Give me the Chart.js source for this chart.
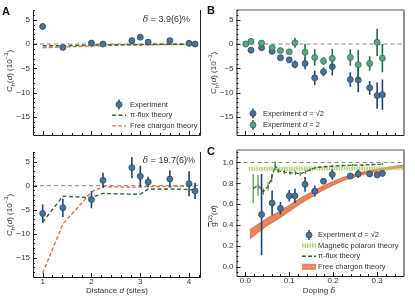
<!DOCTYPE html>
<html>
<head>
<meta charset="utf-8">
<script src="https://cdn.jsdelivr.net/npm/chart.js@4.4.1/dist/chart.umd.min.js"></script>
<style>
  body { margin: 0; width: 415px; height: 300px; position: relative; overflow: hidden; background: #fff;
         font-family: "Liberation Sans", Arial, sans-serif; color: #333; }
  canvas { position: absolute; left: 0; top: 0; }
  .lbl { position: absolute; font-size: 8px; white-space: nowrap; line-height: 1; }
  .rot { transform: translate(-50%, -50%) rotate(-90deg); }
  .ctr { transform: translate(-50%, -50%); }
  .letter { position: absolute; font-weight: bold; font-size: 11px; line-height: 1; color: #111; }
  sub, sup { font-size: 6px; line-height: 0; }
  .delta { position: absolute; font-size: 9px; line-height: 1; white-space: nowrap; transform: translate(-100%, -50%); }
</style>
</head>
<body>
<canvas id="a1" width="415" height="300"></canvas>
<canvas id="a2" width="415" height="300"></canvas>
<canvas id="b" width="415" height="300"></canvas>
<canvas id="c" width="415" height="300"></canvas>

<div class="letter" style="left:2px;top:6px">A</div>
<div class="letter" style="left:207px;top:5px">B</div>
<div class="letter" style="left:207px;top:146px">C</div>

<div class="delta" style="left:190px;top:19px"><i style="font-family:'DejaVu Serif',serif">δ</i> = 3.9(6)%</div>
<div class="delta" style="left:195px;top:160px"><i style="font-family:'DejaVu Serif',serif">δ</i> = 19.7(6)%</div>

<div class="lbl rot" style="left:10px;top:71px"><i>C</i><sub>h</sub>(<i>d</i>) (10<sup>−3</sup>)</div>
<div class="lbl rot" style="left:10px;top:215px"><i>C</i><sub>h</sub>(<i>d</i>) (10<sup>−3</sup>)</div>
<div class="lbl rot" style="left:214px;top:73px"><i>C</i><sub>h</sub>(<i>d</i>) (10<sup>−3</sup>)</div>
<div class="lbl rot" style="left:214px;top:216px"><span style="text-decoration:overline">g</span><sup>(2)</sup>(<i>d</i>)</div>
<div class="lbl ctr" style="left:117px;top:291px">Distance <i>d</i> (sites)</div>
<div class="lbl ctr" style="left:319px;top:291px">Doping <i style="font-family:'DejaVu Serif',serif">δ</i></div>

<script>
"use strict";

// ---- panel A: hole correlations vs distance ----
const DIST = [1, 1.414, 2, 2.236, 2.828, 3, 3.162, 3.606, 4, 4.123];
const CH_LOW = [3.6, -0.7, 0.2, 0.0, 0.7, 1.4, 0.4, 0.7, 0.15, 0.0];
const CH_LOW_ERR = [0.6, 0.5, 0.5, 0.5, 0.6, 0.6, 0.5, 0.5, 0.6, 0.6];
const PIFLUX_LOW = [-0.35, -0.35, -0.2, -0.15, -0.1, -0.1, -0.05, -0.05, -0.05, -0.05];
const CHARGON_LOW = [-0.75, -0.6, -0.4, -0.3, -0.2, -0.2, -0.15, -0.1, -0.1, -0.1];

const CH_HIGH = [-5.8, -4.6, -2.9, 1.1, 3.75, 1.95, 0.75, 1.4, 0.4, -1.1];
const CH_HIGH_ERR = [1.9, 1.9, 1.8, 1.6, 2.2, 2.2, 1.1, 1.8, 2.6, 1.7];
const PIFLUX_HIGH = [-7.6, -2.2, -2.5, -1.6, -1.8, -1.8, -0.7, -0.7, -0.8, -0.9];
const CHARGON_HIGH = [-18.2, -8.0, -1.3, -0.2, -0.3, -0.3, -0.2, -0.15, -0.1, -0.1];

// ---- panel B: correlations vs doping ----
const DOP_D2 = [0.001, 0.013, 0.037, 0.061, 0.080, 0.100, 0.113, 0.136, 0.158, 0.178, 0.198, 0.239, 0.257, 0.283, 0.300, 0.312];
const CH_D2 = [0.0, 0.55, 0.2, -0.75, -1.35, -1.6, 0.25, -1.7, -2.75, -3.5, -2.95, -2.75, -4.25, -4.0, 0.35, -2.9];
const CH_D2_ERR = [0.3, 0.3, 0.3, 0.4, 0.4, 0.4, 1.0, 1.7, 1.7, 0.8, 2.0, 1.7, 3.1, 1.5, 2.8, 2.9];
const DOP_SQ2 = [0.013, 0.037, 0.061, 0.080, 0.100, 0.113, 0.136, 0.158, 0.178, 0.198, 0.239, 0.257, 0.283, 0.300, 0.312];
const CH_SQ2 = [-1.25, -0.75, -1.5, -2.8, -3.25, -4.2, -4.0, -6.95, -5.7, -4.65, -7.3, -7.4, -9.0, -10.6, -10.4];
const CH_SQ2_ERR = [0.3, 0.3, 0.4, 0.4, 0.5, 0.8, 1.2, 1.5, 0.9, 1.8, 1.5, 2.5, 1.4, 2.7, 3.1];

// ---- panel C: g2 vs doping ----
const DOP_C = [0.037, 0.061, 0.080, 0.100, 0.113, 0.136, 0.158, 0.178, 0.198, 0.239, 0.257, 0.283, 0.300, 0.312];
const G2 = [0.50, 0.61, 0.56, 0.68, 0.68, 0.79, 0.725, 0.82, 0.885, 0.87, 0.89, 0.89, 0.88, 0.895];
const G2_ERR = [0.39, 0.12, 0.06, 0.055, 0.07, 0.07, 0.055, 0.02, 0.05, 0.02, 0.04, 0.02, 0.02, 0.02];
const DOP_PIFLUX = [0.018, 0.029, 0.041, 0.052, 0.060, 0.068, 0.075, 0.089, 0.102, 0.114, 0.125, 0.137, 0.148, 0.159, 0.170, 0.182, 0.198, 0.221, 0.244, 0.266, 0.289, 0.312];
const G2_PIFLUX = [0.75, 0.78, 0.72, 0.77, 0.85, 0.97, 0.92, 0.91, 0.90, 0.90, 0.89, 0.91, 0.93, 0.95, 0.955, 0.96, 0.965, 0.97, 0.975, 0.975, 0.98, 0.985];
const G2_PIFLUX_ERR = [0.14, 0.10, 0.03, 0.04, 0.04, 0.04, 0.02, 0.02, 0.02, 0.02, 0.02, 0.02, 0.015, 0.01, 0.01, 0.01, 0.01, 0.01, 0.01, 0.01, 0.01, 0.01];
const DOP_POLARON = [0.008, 0.1, 0.2, 0.3, 0.36];
const G2_POLARON = [0.94, 0.941, 0.942, 0.943, 0.944];
const DOP_CHARGON = [0.01, 0.03, 0.05, 0.075, 0.1, 0.125, 0.15, 0.175, 0.2, 0.225, 0.25, 0.275, 0.3, 0.325, 0.36];
const G2_CHARGON = [0.31, 0.37, 0.43, 0.49, 0.56, 0.63, 0.69, 0.75, 0.80, 0.845, 0.875, 0.905, 0.925, 0.945, 0.965];
const G2_CHARGON_HW = [0.045, 0.04, 0.036, 0.033, 0.03, 0.027, 0.024, 0.021, 0.018, 0.016, 0.014, 0.012, 0.011, 0.01, 0.01];

// ---- ticks ----
const A_X_TICKS = [1, 2, 3, 4];
const A_Y_TICKS = [-15, -10, -5, 0, 5];
const C_X_TICKS = [0, 0.1, 0.2, 0.3];
const C_Y_TICKS = [0, 0.2, 0.4, 0.6, 0.8, 1.0];

const BLUE = "#4d7192", BLUE_EDGE = "#2c4a66", BLUE_BAR = "#1d4677";
const GREEN = "#5ea386", GREEN_EDGE = "#2f6e55", GREEN_BAR = "#1f6b4a";
const PIGREEN = "#2f6b2f", ORANGE = "#dd7348", BAND = "#e9835b", POLARON = "#b2cd6c";
const FONT = '"Liberation Sans", Arial, sans-serif';
const YAXIS_W = 28, XAXIS_H = 12;

Chart.defaults.font.family = FONT;
Chart.defaults.font.size = 8;
Chart.defaults.color = "#333";

const pts = (xs, ys) => xs.map((x, i) => ({ x, y: ys[i] }));
const minus = (v) => (v < 0 ? "\u2212" + Math.abs(v) : String(v));
const fixed1 = (v) => v.toFixed(1);

function range(a, b, step) {
  const out = [];
  for (let v = a; v <= b + 1e-9; v += step) out.push(+v.toFixed(4));
  return out;
}

function drawText(ctx, segs, x, y) {
  segs.forEach((s) => {
    ctx.font = (s.i ? "italic " : "") + "7.5px " + FONT;
    ctx.fillText(s.t, x, y);
    x += ctx.measureText(s.t).width;
  });
}

function drawLegend(ctx, L) {
  ctx.save();
  ctx.textBaseline = "middle";
  L.items.forEach((it, k) => {
    const y = L.y + k * L.dy, x = L.x;
    ctx.setLineDash([]);
    if (it.kind === "marker") {
      ctx.strokeStyle = it.bar; ctx.lineWidth = 1.5;
      ctx.beginPath(); ctx.moveTo(x, y - 5); ctx.lineTo(x, y + 5); ctx.stroke();
      ctx.beginPath(); ctx.arc(x, y, 3, 0, Math.PI * 2);
      ctx.fillStyle = it.color; ctx.fill();
      ctx.strokeStyle = it.edge; ctx.lineWidth = 0.8; ctx.stroke();
    } else if (it.kind === "dash") {
      ctx.strokeStyle = it.color; ctx.lineWidth = it.width || 1.4; ctx.setLineDash(it.dash);
      ctx.beginPath(); ctx.moveTo(x - 7, y); ctx.lineTo(x + 7, y); ctx.stroke();
    } else if (it.kind === "band") {
      ctx.fillStyle = it.color; ctx.fillRect(x - 7, y - 3, 14, 6);
      ctx.strokeStyle = it.light; ctx.lineWidth = 1; ctx.setLineDash([3, 2]);
      ctx.beginPath(); ctx.moveTo(x - 7, y); ctx.lineTo(x + 7, y); ctx.stroke();
    }
    ctx.setLineDash([]);
    ctx.fillStyle = "#333";
    drawText(ctx, it.text, L.tx, y);
  });
  ctx.restore();
}

const decor = {
  id: "decor",
  beforeDatasetsDraw(chart, args, o) {
    if (o.ref == null) return;
    const { ctx, chartArea: a, scales } = chart;
    const py = scales.y.getPixelForValue(o.ref);
    ctx.save();
    ctx.strokeStyle = "#888"; ctx.lineWidth = 1; ctx.setLineDash([4, 3]);
    ctx.beginPath(); ctx.moveTo(a.left, py); ctx.lineTo(a.right, py); ctx.stroke();
    ctx.restore();
  },
  beforeDatasetDraw(chart, args) {
    const ds = chart.data.datasets[args.index];
    if (!ds.errors) return;
    const { ctx, chartArea: a, scales: { x, y } } = chart;
    ctx.save();
    ctx.beginPath(); ctx.rect(a.left, a.top, a.right - a.left, a.bottom - a.top); ctx.clip();
    ctx.strokeStyle = ds.errorColor; ctx.lineWidth = ds.errorWidth || 1.6;
    ds.data.forEach((p, i) => {
      const px = x.getPixelForValue(p.x), e = ds.errors[i];
      ctx.beginPath();
      ctx.moveTo(px, y.getPixelForValue(p.y - e));
      ctx.lineTo(px, y.getPixelForValue(p.y + e));
      ctx.stroke();
    });
    ctx.restore();
  },
  afterDraw(chart, args, o) {
    const { ctx, chartArea: a, scales: { x, y } } = chart;
    ctx.save();
    ctx.strokeStyle = "#222"; ctx.lineWidth = 1;
    ctx.beginPath();
    ctx.moveTo(a.left + 0.5, a.top); ctx.lineTo(a.left + 0.5, a.bottom + 0.5);
    ctx.lineTo(a.right + 0.5, a.bottom + 0.5); ctx.lineTo(a.right + 0.5, a.top);
    ctx.stroke();
    if (o.topLine) {
      ctx.strokeStyle = "#aaa"; ctx.lineWidth = 2;
      ctx.beginPath(); ctx.moveTo(a.left, a.top); ctx.lineTo(a.right + 1, a.top); ctx.stroke();
    }
    ctx.strokeStyle = "#222"; ctx.lineWidth = 1;
    const tickX = (vals, len) => vals.forEach((v) => {
      const px = Math.round(x.getPixelForValue(v)) + 0.5;
      if (px < a.left || px > a.right) return;
      ctx.beginPath(); ctx.moveTo(px, a.bottom); ctx.lineTo(px, a.bottom - len); ctx.stroke();
    });
    const tickY = (vals, len) => vals.forEach((v) => {
      const py = Math.round(y.getPixelForValue(v)) + 0.5;
      if (py < a.top || py > a.bottom) return;
      ctx.beginPath(); ctx.moveTo(a.left, py); ctx.lineTo(a.left + len, py); ctx.stroke();
    });
    tickX(o.xMinor, 2); tickX(o.xMajor, 4);
    tickY(o.yMinor, 2); tickY(o.yMajor, 4);
    ctx.restore();
    if (o.legend) drawLegend(ctx, o.legend);
  },
};

function axis(lim, ticks, show, fmt, kind) {
  return {
    type: "linear", min: lim[0], max: lim[1],
    grid: { display: false, drawTicks: false },
    border: { display: false },
    ticks: { display: show, padding: kind === "x" ? 0 : 3, callback: fmt, color: "#333", font: { size: 8 }, autoSkip: false, maxRotation: 0 },
    afterBuildTicks: (s) => { s.ticks = ticks.map((v) => ({ value: v })); },
    afterFit: (s) => {
      if (kind === "x") s.height = show ? XAXIS_H : 0;
      else s.width = YAXIS_W;
    },
  };
}

// area = page coords of the plot box; the axis boxes are carved out of the padding
function makeChart(id, o) {
  const pad = {
    left: o.area.left - YAXIS_W,
    right: 415 - o.area.right,
    top: o.area.top,
    bottom: 300 - o.area.bottom - (o.showX ? XAXIS_H : 0),
  };
  return new Chart(document.getElementById(id), {
    type: "scatter",
    data: { datasets: o.datasets },
    plugins: [decor],
    options: {
      responsive: false, animation: false, events: [],
      layout: { padding: pad },
      plugins: { legend: { display: false }, tooltip: { enabled: false }, decor: o.decor },
      scales: {
        x: axis(o.x, o.xTicks, o.showX, o.xFmt, "x"),
        y: axis(o.y, o.yTicks, true, o.yFmt, "y"),
      },
    },
  });
}

const expSet = (data, errors, color, edge, bar) => ({
  data, errors, errorColor: bar, pointRadius: 3, pointBackgroundColor: color,
  pointBorderColor: edge, pointBorderWidth: 0.8, showLine: false,
});
const lineSet = (data, color, dash, width) => ({
  data, showLine: true, pointRadius: 0, borderColor: color, borderWidth: width || 1.4,
  borderDash: dash, tension: 0, fill: false,
});

const legendA = {
  x: 119, tx: 130, y: 104.5, dy: 10.7,
  items: [
    { kind: "marker", color: BLUE, edge: BLUE_EDGE, bar: BLUE_BAR, text: [{ t: "Experiment" }] },
    { kind: "dash", color: PIGREEN, dash: [4, 2.5], text: [{ t: "\u03c0-flux theory" }] },
    { kind: "dash", color: ORANGE, dash: [4, 2], text: [{ t: "Free chargon theory" }] },
  ],
};

makeChart("a1", {
  area: { left: 33, right: 200, top: 10, bottom: 135 },
  x: [0.802, 4.224], y: [-18.7, 7.0], xTicks: A_X_TICKS, yTicks: A_Y_TICKS, showX: false, yFmt: minus,
  datasets: [
    expSet(pts(DIST, CH_LOW), CH_LOW_ERR, BLUE, BLUE_EDGE, BLUE_BAR),
    lineSet(pts(DIST, PIFLUX_LOW), PIGREEN, [4, 2.5]),
    lineSet(pts(DIST, CHARGON_LOW), ORANGE, [4, 2]),
  ],
  decor: { ref: 0, xMajor: A_X_TICKS, xMinor: range(1, 4.2, 0.2), yMajor: A_Y_TICKS, yMinor: range(-18, 7, 1), legend: legendA },
});

makeChart("a2", {
  area: { left: 33, right: 200, top: 152, bottom: 277 },
  x: [0.802, 4.224], y: [-19.0, 7.0], xTicks: A_X_TICKS, yTicks: A_Y_TICKS, showX: true, xFmt: (v) => String(v), yFmt: minus,
  datasets: [
    expSet(pts(DIST, CH_HIGH), CH_HIGH_ERR, BLUE, BLUE_EDGE, BLUE_BAR),
    lineSet(pts(DIST, PIFLUX_HIGH), PIGREEN, [4, 2.5]),
    lineSet(pts(DIST, CHARGON_HIGH), ORANGE, [4, 2]),
  ],
  decor: { ref: 0, xMajor: A_X_TICKS, xMinor: range(1, 4.2, 0.2), yMajor: A_Y_TICKS, yMinor: range(-18, 7, 1) },
});

makeChart("b", {
  area: { left: 236.5, right: 403.5, top: 10, bottom: 135 },
  x: [-0.02, 0.36], y: [-18.7, 7.0], xTicks: C_X_TICKS, yTicks: A_Y_TICKS, showX: false, yFmt: minus,
  datasets: [
    expSet(pts(DOP_D2, CH_D2), CH_D2_ERR, GREEN, GREEN_EDGE, GREEN_BAR),
    expSet(pts(DOP_SQ2, CH_SQ2), CH_SQ2_ERR, BLUE, BLUE_EDGE, BLUE_BAR),
  ],
  decor: {
    ref: 0, topLine: true, xMajor: C_X_TICKS, xMinor: range(0, 0.36, 0.02), yMajor: A_Y_TICKS, yMinor: range(-18, 7, 1),
    legend: {
      x: 253, tx: 263, y: 113.5, dy: 11.5,
      items: [
        { kind: "marker", color: BLUE, edge: BLUE_EDGE, bar: BLUE_BAR, text: [{ t: "Experiment " }, { t: "d", i: true }, { t: " = \u221a2" }] },
        { kind: "marker", color: GREEN, edge: GREEN_EDGE, bar: GREEN_BAR, text: [{ t: "Experiment " }, { t: "d", i: true }, { t: " = 2" }] },
      ],
    },
  },
});

const chargonUpper = pts(DOP_CHARGON, G2_CHARGON.map((v, i) => v + G2_CHARGON_HW[i]));
const chargonLower = pts(DOP_CHARGON, G2_CHARGON.map((v, i) => v - G2_CHARGON_HW[i]));

makeChart("c", {
  area: { left: 236.5, right: 403.5, top: 150, bottom: 276 },
  x: [-0.02, 0.36], y: [-0.09, 1.12], xTicks: C_X_TICKS, yTicks: C_Y_TICKS, showX: true, xFmt: fixed1, yFmt: fixed1,
  datasets: [
    expSet(pts(DOP_C, G2), G2_ERR, BLUE, BLUE_EDGE, BLUE_BAR),
    Object.assign(lineSet(pts(DOP_PIFLUX, G2_PIFLUX), PIGREEN, [4, 2], 1.3), { errors: G2_PIFLUX_ERR, errorColor: "#4f8a4a", errorWidth: 1.2 }),
    lineSet(pts(DOP_POLARON, G2_POLARON), POLARON, [1.5, 1], 4),
    lineSet(chargonUpper, "#d7663c", [], 0.8),
    Object.assign(lineSet(chargonLower, "#d7663c", [], 0.8), { fill: "-1", backgroundColor: BAND }),
  ],
  decor: {
    ref: 1, topLine: true, xMajor: C_X_TICKS, xMinor: range(0, 0.36, 0.02), yMajor: C_Y_TICKS, yMinor: range(-0.05, 1.1, 0.05),
    legend: {
      x: 309, tx: 318, y: 235, dy: 10.6,
      items: [
        { kind: "marker", color: BLUE, edge: BLUE_EDGE, bar: BLUE_BAR, text: [{ t: "Experiment " }, { t: "d", i: true }, { t: " = \u221a2" }] },
        { kind: "dash", color: POLARON, dash: [1.5, 1], width: 4, text: [{ t: "Magnetic polaron theory" }] },
        { kind: "dash", color: PIGREEN, dash: [4, 2], text: [{ t: "\u03c0-flux theory" }] },
        { kind: "band", color: BAND, light: "#f3b090", text: [{ t: "Free chargon theory" }] },
      ],
    },
  },
});
</script>
</body>
</html>
